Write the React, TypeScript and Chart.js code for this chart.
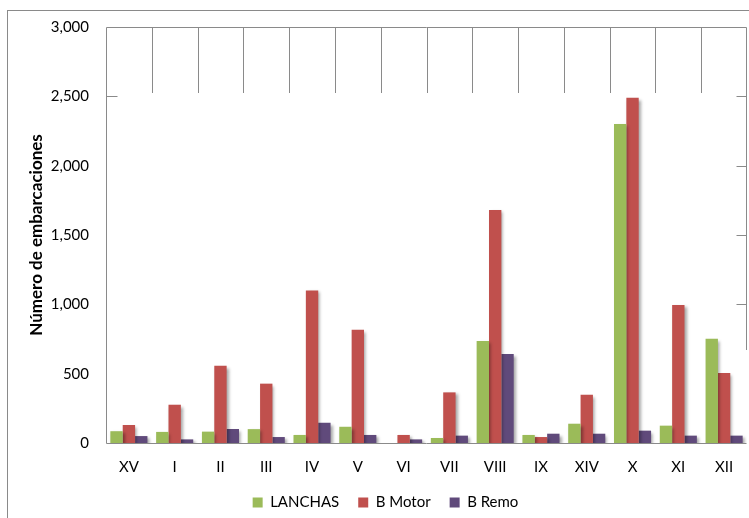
import React, { useEffect, useRef } from 'react';
import { Chart, registerables } from 'chart.js';

Chart.register(...registerables);

const categories = ['XV', 'I', 'II', 'III', 'IV', 'V', 'VI', 'VII', 'VIII', 'IX', 'XIV', 'X', 'XI', 'XII'];
const lanchas = [85, 80, 82, 100, 58, 117, 0, 36, 735, 58, 139, 2300, 125, 752];
const bMotor = [130, 276, 557, 428, 1100, 817, 58, 365, 1680, 43, 348, 2490, 995, 505];
const bRemo = [50, 26, 101, 43, 146, 58, 26, 53, 642, 67, 67, 89, 53, 53];
const seriesNames = ['LANCHAS', 'B Motor', 'B Remo'];
const seriesColors = ['#9BBB59', '#C0504D', '#604A7B'];
const yMax = 3000;
const yStep = 500;
const yTitle = 'Número de embarcaciones';

const FONT = 'Lato, "Open Sans", sans-serif';
const LINE = '#8a8a8a';

const decorPlugin = {
  id: 'decor',
  beforeDraw(chart: any) {
    const { ctx } = chart;
    ctx.save();
    ctx.fillStyle = '#ffffff';
    ctx.fillRect(0, 0, chart.width, chart.height);
    ctx.strokeStyle = LINE;
    ctx.lineWidth = 1;
    ctx.strokeRect(7.5, 10.5, chart.width + 20, chart.height + 20);
    ctx.restore();
  },
  beforeDatasetsDraw(chart: any) {
    const { ctx } = chart;
    ctx.save();
    ctx.shadowColor = 'rgba(0,0,0,0.35)';
    ctx.shadowBlur = 3;
    ctx.shadowOffsetX = 2;
    ctx.shadowOffsetY = 2;
  },
  afterDatasetsDraw(chart: any) {
    chart.ctx.restore();
  },
  afterDraw(chart: any) {
    const { ctx, scales } = chart;
    const x = scales.x;
    const y = scales.y;
    const L = Math.round(x.left) + 0.5;
    const R = Math.round(x.right) - 0.5;
    const T = Math.round(y.top) + 0.5;
    const B = Math.round(y.bottom) + 0.5;
    ctx.save();
    ctx.strokeStyle = LINE;
    ctx.lineWidth = 1;
    ctx.beginPath();
    ctx.moveTo(L, T);
    ctx.lineTo(L, B);
    ctx.lineTo(R, B);
    ctx.moveTo(L, T);
    ctx.lineTo(R, T);
    const n = categories.length;
    const w = (x.right - x.left) / n;
    const yCut = Math.round(y.getPixelForValue(2525));
    for (let i = 1; i < n; i++) {
      const px = Math.round(x.left + i * w) + 0.5;
      ctx.moveTo(px, T);
      ctx.lineTo(px, yCut);
    }
    ctx.moveTo(R, T);
    ctx.lineTo(R, Math.round(y.getPixelForValue(670)));
    [2500, 2000, 1500, 1000].forEach((v) => {
      const py = Math.round(y.getPixelForValue(v)) + 0.5;
      ctx.moveTo(R, py);
      ctx.lineTo(R - 10, py);
    });
    const p25 = Math.round(y.getPixelForValue(2500)) + 0.5;
    ctx.moveTo(L, p25);
    ctx.lineTo(L + 11, p25);
    ctx.stroke();
    ctx.restore();
  },
};

export default function App() {
  const ref = useRef<HTMLCanvasElement | null>(null);
  useEffect(() => {
    if (!ref.current) return;
    const chart = new Chart(ref.current, {
      type: 'bar',
      data: {
        labels: categories,
        datasets: [lanchas, bMotor, bRemo].map((d, i) => ({
          label: seriesNames[i],
          data: d,
          backgroundColor: seriesColors[i],
          borderWidth: 0,
          categoryPercentage: 0.81,
          barPercentage: 1.0,
        })),
      },
      options: {
        animation: false,
        responsive: false,
        maintainAspectRatio: false,
        layout: { padding: { left: 24, right: 2, top: 27, bottom: -2 } },
        plugins: {
          tooltip: { enabled: false },
          legend: {
            position: 'bottom',
            align: 'center',
            labels: {
              boxWidth: 10,
              boxHeight: 10,
              padding: 19,
              color: '#000',
              font: { family: FONT, size: 15 },
            },
          },
        },
        scales: {
          x: {
            grid: { display: false, drawTicks: false },
            border: { display: false },
            ticks: { color: '#000', font: { family: FONT, size: 15 }, padding: 15, maxRotation: 0, autoSkip: false },
            afterFit: (s: any) => { s.height = 33; },
          },
          y: {
            min: 0,
            max: yMax,
            grid: { display: false, drawTicks: false },
            border: { display: false },
            ticks: {
              stepSize: yStep,
              color: '#000',
              padding: 17,
              font: { family: FONT, size: 15 },
              callback: (v: any) => Number(v).toLocaleString('en-US'),
            },
            title: {
              display: true,
              text: yTitle,
              color: '#000',
              font: { family: FONT, size: 17, weight: 'bold' },
              padding: { top: 2, bottom: 0 },
            },
            afterFit: (s: any) => { s.width = 82; },
          },
        },
      },
      plugins: [decorPlugin],
    });
    return () => chart.destroy();
  }, []);
  return (
    <div style={{ position: 'absolute', left: 0, top: 0, width: 749, height: 518 }}>
      <canvas ref={ref} width={749} height={518} style={{ display: 'block', width: 749, height: 518 }} />
    </div>
  );
}
